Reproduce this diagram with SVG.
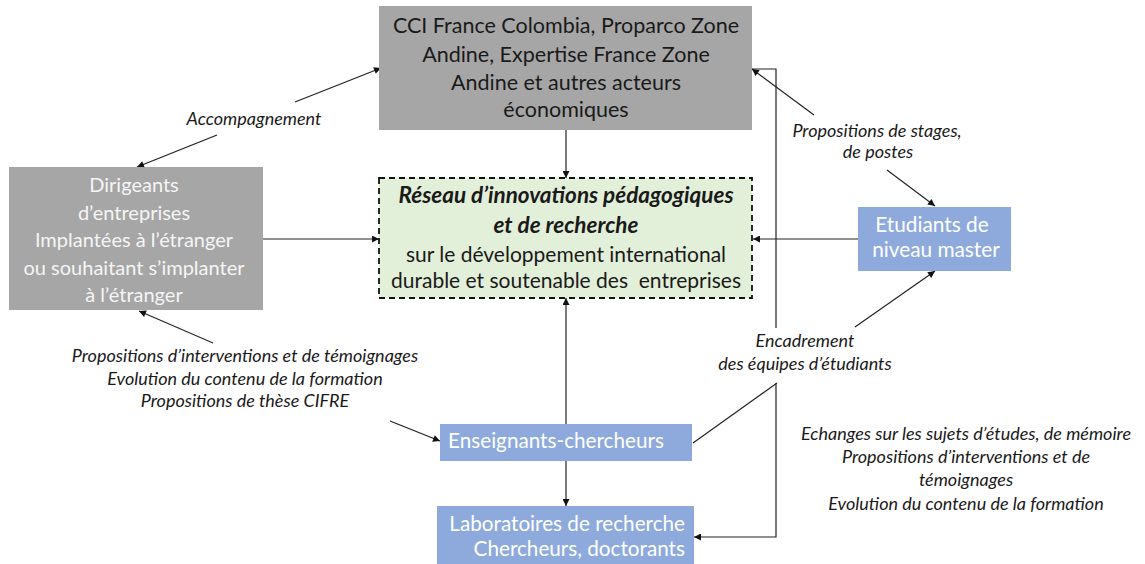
<svg xmlns="http://www.w3.org/2000/svg" width="1145" height="564" viewBox="0 0 1145 564">
<defs>
<marker id="ah" viewBox="0 0 10 10" refX="10" refY="5" markerWidth="8" markerHeight="7" markerUnits="userSpaceOnUse" orient="auto">
<path d="M0,0 L10,5 L0,10 z" fill="#111"/>
</marker>
<style>
.gray{fill:#a6a6a6}
.blue{fill:#8eaadc}
.t{font-family:Lato,"Liberation Sans",sans-serif;font-size:20px;text-anchor:middle}
.dark{fill:#1a1a1a}
.white{fill:#ffffff}
.lbl{font-family:Lato,"Liberation Sans",sans-serif;font-size:18px;font-style:italic;fill:#1a1a1a;text-anchor:middle}
.c{fill:none;stroke:#222;stroke-width:1.2}
.ca{fill:none;stroke:#222;stroke-width:1.2;marker-end:url(#ah)}
</style>
</defs>
<rect width="1145" height="564" fill="#ffffff"/>
<g id="connectors">
<line class="ca" x1="566" y1="130" x2="566" y2="178"/>
<line class="ca" x1="263" y1="239" x2="379" y2="239"/>
<line class="ca" x1="858" y1="239" x2="753" y2="239"/>
<line class="ca" x1="566" y1="424" x2="566" y2="298"/>
<line class="ca" x1="566" y1="461" x2="566" y2="506"/>
<polyline class="c" points="752,69 776,69 776,328"/>
<polyline class="ca" points="776,383 776,537 694,537"/>
<line class="ca" x1="814" y1="115" x2="752" y2="69"/>
<line class="ca" x1="887" y1="170" x2="935" y2="206"/>
<line class="ca" x1="295" y1="102" x2="381" y2="68"/>
<line class="ca" x1="217" y1="135" x2="137" y2="167"/>
<line class="ca" x1="213" y1="343" x2="139" y2="311"/>
<line class="ca" x1="390" y1="421" x2="440" y2="441"/>
<line class="c" x1="693" y1="443" x2="777" y2="383"/>
<line class="ca" x1="855" y1="327" x2="935" y2="271"/>
</g>
<g id="acteurs">
<rect class="gray" x="379" y="6" width="373" height="124"/>
<text class="t dark" style="font-size:21.5px"><tspan x="566" y="33">CCI France Colombia, Proparco Zone</tspan><tspan x="566" y="62">Andine, Expertise France Zone</tspan><tspan x="566" y="90">Andine et autres acteurs</tspan><tspan x="566" y="117">économiques</tspan></text>
</g>
<g id="dirigeants">
<rect class="gray" x="9" y="167" width="254" height="143"/>
<text class="t" fill="#f5f5f5"><tspan x="134" y="192">Dirigeants</tspan><tspan x="134" y="220">d’entreprises</tspan><tspan x="134" y="247">Implantées à l’étranger</tspan><tspan x="134" y="275">ou souhaitant s’implanter</tspan><tspan x="134" y="302">à l’étranger</tspan></text>
</g>
<g id="reseau">
<rect x="379" y="178" width="373" height="120" fill="#e2efd9" stroke="#111" stroke-width="1.8" stroke-dasharray="6,4"/>
<text class="t dark" xml:space="preserve" style="font-size:21px;white-space:pre"><tspan x="566" y="203" font-weight="bold" font-style="italic" font-size="22.5">Réseau d’innovations pédagogiques</tspan><tspan x="566" y="233" font-weight="bold" font-style="italic" font-size="22.5">et de recherche</tspan><tspan x="566" y="262">sur le développement international</tspan><tspan x="566" y="288">durable et soutenable des  entreprises</tspan></text>
</g>
<g id="etudiants">
<rect class="blue" x="858" y="207" width="153" height="64"/>
<text class="t white" style="font-size:20.8px"><tspan x="932" y="232">Etudiants de</tspan><tspan x="936" y="257">niveau master</tspan></text>
</g>
<g id="enseignants">
<rect class="blue" x="440" y="424" width="252" height="37"/>
<text class="t white" style="font-size:20.7px" x="556" y="448">Enseignants-chercheurs</text>
</g>
<g id="laboratoires">
<rect class="blue" x="437" y="506" width="257" height="58"/>
<text class="t white" style="font-size:20.7px;text-anchor:end"><tspan x="685" y="531">Laboratoires de recherche</tspan><tspan x="685" y="556">Chercheurs, doctorants</tspan></text>
</g>
<g id="labels">
<text class="lbl" x="254" y="125">Accompagnement</text>
<text class="lbl"><tspan x="877" y="137">Propositions de stages,</tspan><tspan x="878" y="158">de postes</tspan></text>
<text class="lbl"><tspan x="245" y="362">Propositions d’interventions et de témoignages</tspan><tspan x="245" y="385">Evolution du contenu de la formation</tspan><tspan x="245" y="407">Propositions de thèse CIFRE</tspan></text>
<text class="lbl"><tspan x="805" y="347">Encadrement</tspan><tspan x="805" y="370">des équipes d’étudiants</tspan></text>
<text class="lbl"><tspan x="966" y="440">Echanges sur les sujets d’études, de mémoire</tspan><tspan x="966" y="463">Propositions d’interventions et de</tspan><tspan x="966" y="486">témoignages</tspan><tspan x="966" y="510">Evolution du contenu de la formation</tspan></text>
</g>
</svg>
